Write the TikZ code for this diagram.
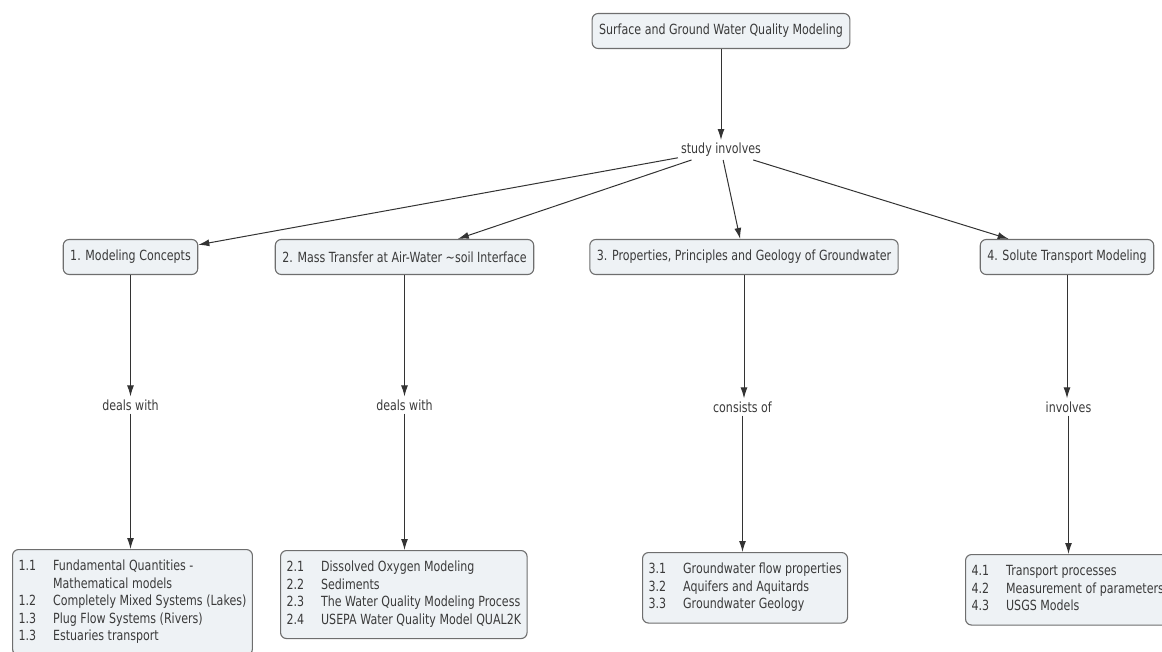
\documentclass[tikz,border=0pt]{standalone}
\usepackage{fontspec}
\setmainfont{DejaVu Sans}[FakeStretch=0.79]
\usetikzlibrary{arrows.meta, positioning}
\definecolor{cmline}{HTML}{333333}
\definecolor{cmtext}{HTML}{3A3A3A}
\definecolor{cmborder}{HTML}{6E6E6E}
\definecolor{cmfill}{HTML}{EEF2F5}
\tikzset{
  cbox/.style={draw=cmborder, fill=cmfill, rounded corners=6pt, line width=1.1pt,
               minimum height=35pt, inner xsep=7pt, text=cmtext},
  lbox/.style={draw=cmborder, fill=cmfill, rounded corners=6pt, line width=1.1pt,
               inner xsep=6pt, inner ysep=9pt, text=cmtext, anchor=north west},
  lbl/.style={text=cmtext, inner sep=3pt},
  arr/.style={-{Latex[length=11pt,width=7pt]}, line width=1pt, cmline},
}

\begin{document}
\begin{tikzpicture}[x=1pt, y=-1pt, every node/.style={font=\fontsize{14}{17.5}\selectfont}]
    \path[use as bounding box, clip] (0,0) rectangle (1162,652);

    % top concept and linking phrase
    \node[cbox] (top) at (721, 31) {Surface and Ground Water Quality Modeling};
    \node[lbl] (study) at (721, 150) {study involves};

    % second level
    \node[cbox] (n1) at (130.5, 257) {1. Modeling Concepts};
    \node[cbox] (n2) at (404.5, 257) {2. Mass Transfer at Air-Water \textasciitilde soil Interface};
    \node[cbox] (n3) at (744, 257) {3. Properties, Principles and Geology of Groundwater};
    \node[cbox] (n4) at (1067, 257) {4. Solute Transport Modeling};

    \node[lbl] (d1) at (130.5, 405) {deals with};
    \node[lbl] (d2) at (404.5, 405) {deals with};
    \node[lbl] (d3) at (742.5, 407) {consists of};
    \node[lbl] (d4) at (1068.5, 407) {involves};

    % topic lists
    \node[lbox] (b1) at (12, 549) {\begin{tabular}{@{}l@{\hspace{17pt}}l@{}}
      1.1 & Fundamental Quantities -\\
          & Mathematical models\\
      1.2 & Completely Mixed Systems (Lakes)\\
      1.3 & Plug Flow Systems (Rivers)\\
      1.3 & Estuaries transport
    \end{tabular}};
    \node[lbox] (b2) at (280, 550) {\begin{tabular}{@{}l@{\hspace{17pt}}l@{}}
      2.1 & Dissolved Oxygen Modeling\\
      2.2 & Sediments\\
      2.3 & The Water Quality Modeling Process\\
      2.4 & USEPA Water Quality Model QUAL2K
    \end{tabular}};
    \node[lbox] (b3) at (642, 552) {\begin{tabular}{@{}l@{\hspace{17pt}}l@{}}
      3.1 & Groundwater flow properties\\
      3.2 & Aquifers and Aquitards\\
      3.3 & Groundwater Geology
    \end{tabular}};
    \node[lbox] (b4) at (965, 554) {\begin{tabular}{@{}l@{\hspace{17pt}}l@{}}
      4.1 & Transport processes\\
      4.2 & Measurement of parameters\\
      4.3 & USGS Models
    \end{tabular}};

    \draw[arr] (top) -- (study);
    \draw[arr] (study) -- (n1);
    \draw[arr] (study) -- (n2);
    \draw[arr] (study) -- (n3);
    \draw[arr] (study) -- (n4);

    \draw[arr] (n1) -- (n1 |- d1.north);
    \draw[arr] (n2) -- (n2 |- d2.north);
    \draw[arr] (n3) -- (n3 |- d3.north);
    \draw[arr] (n4) -- (n4 |- d4.north);

    \draw[arr] (d1) -- (d1 |- b1.north);
    \draw[arr] (d2) -- (d2 |- b2.north);
    \draw[arr] (d3) -- (d3 |- b3.north);
    \draw[arr] (d4) -- (d4 |- b4.north);
  \end{tikzpicture}
\end{document}
